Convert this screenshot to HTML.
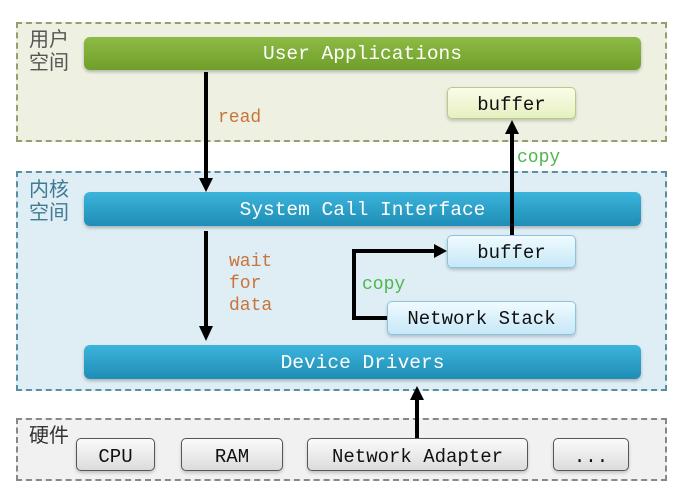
<!DOCTYPE html>
<html><head><meta charset="utf-8"><style>
body{margin:0;width:683px;height:497px;background:#fff;position:relative;overflow:hidden;font-family:"Liberation Mono","DejaVu Sans Mono",monospace}
.a{position:absolute;box-sizing:border-box}
.zone{border:2px dashed;}
.bar{border-radius:6px;color:#fff;font-size:19.5px;text-align:center;box-shadow:0 2px 3px rgba(0,0,0,.25)}
.box{border-radius:5px;font-size:19px;text-align:center;color:#111;box-shadow:0 2px 3px rgba(0,0,0,.2)}
.lbl{font-family:"Liberation Sans","Noto Sans CJK SC",sans-serif;font-size:20px;line-height:23px}
.t{position:absolute;font-size:18px;line-height:22px}
</style></head><body>
<div class="a zone" style="left:16px;top:22px;width:651px;height:120px;border-color:#9a9c70;background:#eef1e2"></div>
<div class="a zone" style="left:16px;top:171px;width:651px;height:220px;border-color:#5a8ea0;background:#dfedf5"></div>
<div class="a zone" style="left:16px;top:418px;width:651px;height:63px;border-color:#888;background:#f1f1f1"></div>
<div class="a lbl" style="left:29px;top:29px;color:#555">用户<br>空间</div>
<div class="a lbl" style="left:29px;top:179px;color:#3f7b95">内核<br>空间</div>
<div class="a lbl" style="left:29px;top:425px;color:#333">硬件</div>
<div class="a bar" style="left:84px;top:37px;width:557px;height:33px;line-height:35px;background:linear-gradient(#8dbb45,#6f9e2a)">User Applications</div>
<div class="a bar" style="left:84px;top:192px;width:557px;height:34px;line-height:36px;background:linear-gradient(#3cb4dc,#1f8db5)">System Call Interface</div>
<div class="a bar" style="left:84px;top:345px;width:557px;height:34px;line-height:36px;background:linear-gradient(#3cb4dc,#1f8db5)">Device Drivers</div>
<div class="a box" style="left:447px;top:87px;width:129px;height:32px;line-height:34px;border:1px solid #b9c98a;background:linear-gradient(#fbfde9,#e5f0c0)">buffer</div>
<div class="a box" style="left:447px;top:235px;width:129px;height:33px;line-height:34px;border:1px solid #8cc4de;background:linear-gradient(#f0fbff,#c6e8f7)">buffer</div>
<div class="a box" style="left:387px;top:301px;width:189px;height:34px;line-height:35px;border:1px solid #8cc4de;background:linear-gradient(#f0fbff,#c6e8f7)">Network Stack</div>
<div class="a box" style="left:76px;top:438px;width:79px;height:33px;line-height:36px;border:1px solid #555;background:linear-gradient(#fafafa,#dcdcdc)">CPU</div>
<div class="a box" style="left:181px;top:438px;width:102px;height:33px;line-height:36px;border:1px solid #555;background:linear-gradient(#fafafa,#dcdcdc)">RAM</div>
<div class="a box" style="left:307px;top:438px;width:221px;height:33px;line-height:36px;border:1px solid #555;background:linear-gradient(#fafafa,#dcdcdc)">Network Adapter</div>
<div class="a box" style="left:553px;top:438px;width:76px;height:33px;line-height:36px;border:1px solid #555;background:linear-gradient(#fafafa,#dcdcdc)">...</div>
<div class="t" style="left:218px;top:107px;color:#c8743a">read</div>
<div class="t" style="left:229px;top:251px;color:#c8743a">wait<br>for<br>data</div>
<div class="t" style="left:517px;top:147px;color:#4cb84c">copy</div>
<div class="t" style="left:362px;top:274px;color:#4cb84c">copy</div>
<svg class="a" style="left:0;top:0" width="683" height="497">
<g stroke="#000" stroke-width="4" fill="none">
<line x1="206" y1="72" x2="206" y2="180"/>
<line x1="206" y1="231" x2="206" y2="328"/>
<line x1="512" y1="235" x2="512" y2="132"/>
<line x1="417" y1="438" x2="417" y2="398"/>
<polyline points="387,318 354,318 354,251 435,251"/>
</g>
<g fill="#000">
<polygon points="199,178 213,178 206,192"/>
<polygon points="199,326 213,326 206,341"/>
<polygon points="505,134 519,134 512,120"/>
<polygon points="410,400 424,400 417,386"/>
<polygon points="434,244 434,258 447,251"/>
</g>
</svg>
</body></html>
